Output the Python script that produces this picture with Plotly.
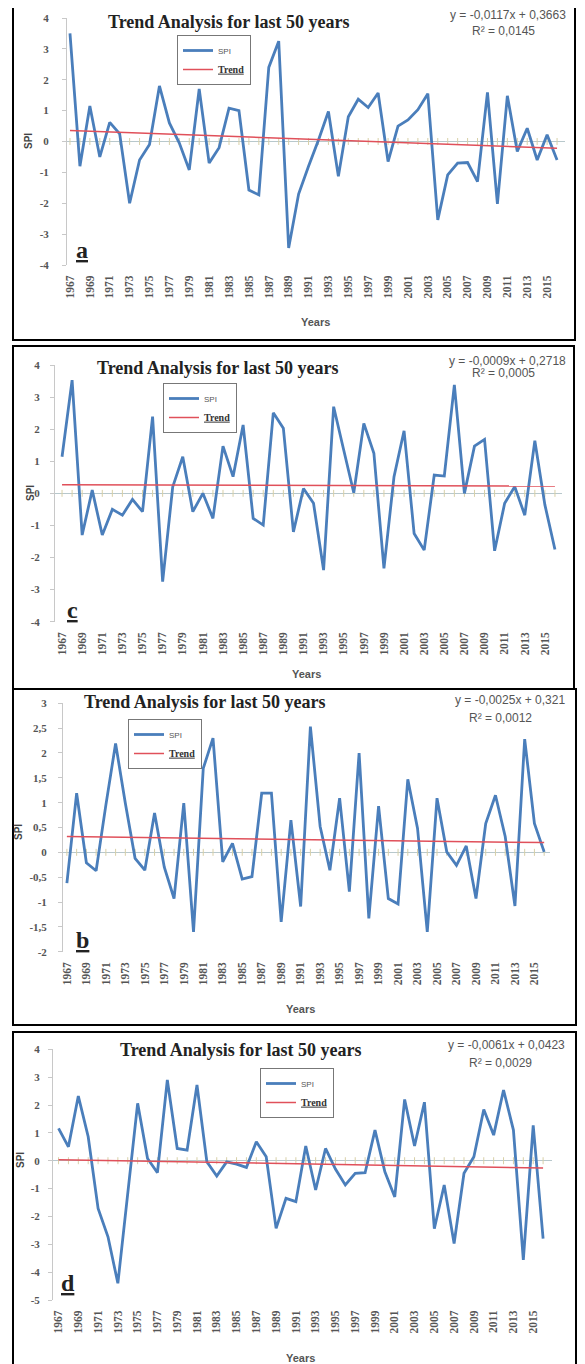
import plotly.graph_objects as go

years = list(range(1967, 2017))
tick_years = list(range(1967, 2016, 2))
tick_text = [str(y) for y in tick_years]

spi_a = [3.5, -0.8, 1.15, -0.5, 0.62, 0.25, -2.0, -0.6, -0.1, 1.8,
         0.6, -0.05, -0.92, 1.7, -0.7, -0.2, 1.08, 1.0, -1.57, -1.73,
         2.4, 3.25, -3.45, -1.7, -0.8, 0.05, 0.97, -1.13, 0.8, 1.37,
         1.1, 1.57, -0.65, 0.5, 0.7, 1.03, 1.55, -2.54, -1.08, -0.7,
         -0.68, -1.3, 1.59, -2.02, 1.48, -0.32, 0.43, -0.6, 0.22, -0.6]
spi_c = [1.14, 3.53, -1.3, 0.1, -1.3, -0.5, -0.68, -0.19, -0.57, 2.39,
         -2.75, 0.2, 1.14, -0.57, 0.0, -0.78, 1.47, 0.52, 2.13, -0.78,
         -0.99, 2.51, 2.03, -1.2, 0.15, -0.31, -2.39, 2.7, 1.35, 0.02,
         2.18, 1.25, -2.34, 0.52, 1.95, -1.25, -1.77, 0.57, 0.54, 3.38,
         0.0, 1.47, 1.68, -1.79, -0.31, 0.21, -0.68, 1.64, -0.36, -1.75]
spi_b = [-0.62, 1.19, -0.21, -0.37, 0.95, 2.19, 0.99, -0.12, -0.36, 0.79,
         -0.3, -0.93, 0.99, -1.6, 1.69, 2.3, -0.19, 0.18, -0.54, -0.49,
         1.19, 1.19, -1.4, 0.65, -1.09, 2.53, 0.52, -0.36, 1.09, -0.79,
         2.0, -1.33, 0.93, -0.93, -1.04, 1.47, 0.48, -1.6, 1.09, 0.01,
         -0.26, 0.13, -0.93, 0.58, 1.15, 0.32, -1.08, 2.28, 0.58, 0.01]
spi_d = [1.16, 0.5, 2.32, 0.86, -1.71, -2.73, -4.4, -1.2, 2.06, 0.08,
         -0.43, 2.9, 0.44, 0.38, 2.72, -0.04, -0.55, -0.04, -0.12, -0.24,
         0.68, 0.14, -2.43, -1.35, -1.47, 0.53, -1.05, 0.44, -0.3, -0.87,
         -0.45, -0.43, 1.1, -0.4, -1.3, 2.2, 0.53, 2.1, -2.44, -0.87,
         -2.97, -0.45, 0.14, 1.84, 0.92, 2.54, 1.1, -3.56, 1.27, -2.8]

slopes = [-0.0117, -0.0009, -0.0025, -0.0061]
intercepts = [0.3663, 0.2718, 0.321, 0.0423]
eq_texts = ["y = -0,0117x + 0,3663", "y = -0,0009x + 0,2718",
            "y = -0,0025x + 0,321", "y = -0,0061x + 0,0423"]
r2_texts = ["R² = 0,0145", "R² = 0,0005", "R² = 0,0012", "R² = 0,0029"]
letters = ["a", "c", "b", "d"]
series = [spi_a, spi_c, spi_b, spi_d]
title_text = "Trend Analysis for last 50 years"

W, H = 585, 1364
OFF = 8  # page body margin

def px(x):
    return (x - OFF) / W

def py(y):
    return 1 - (y - OFF) / H

panels = [
    dict(box=(13, 5, 575, 340), plot_x=(67, 565), xr=(1966.7, 2016.8),
         yr=(-4, 4), ypix=(18, 265), dtick=1, title=(229, 22), eq=(568, 15), r2=(503, 31),
         leg=(177, 35), letter=(82, 250), spi=(28, 141), years=(315, 322), comma=False, sto=11),
    dict(box=(13, 346, 574, 689), plot_x=(55, 562), xr=(1966.3, 2016.7),
         yr=(-4, 4), ypix=(365, 621.7), dtick=1, title=(218, 368), eq=(568, 361), r2=(503, 373),
         leg=(163, 383), letter=(72, 610), spi=(30, 493), years=(306, 674), comma=False, sto=8),
    dict(box=(13, 689, 576, 1025), plot_x=(63, 550), xr=(1966.6, 2016.6),
         yr=(-2, 3), ypix=(703.3, 951.7), dtick=0.5, title=(205, 702), eq=(567, 700), r2=(500, 718),
         leg=(128, 719), letter=(82, 940), spi=(18, 832), years=(300, 1009), comma=True, sto=9),
    dict(box=(13, 1032, 576, 1380), plot_x=(53, 552), xr=(1966.44, 2016.9),
         yr=(-5, 4), ypix=(1049.3, 1300), dtick=1, title=(241, 1050), eq=(567, 1045), r2=(500, 1063),
         leg=(260, 1068), letter=(68, 1283), spi=(20, 1160), years=(300, 1358), comma=False, sto=6),
]

fig = go.Figure()
annotations = []
shapes = []
layout_axes = {}


def note(text, x, y, size, family, color, xanchor="center", angle=0):
    annotations.append(dict(text=text, x=px(x), y=py(y), xref="paper", yref="paper",
                            xanchor=xanchor, yanchor="middle", showarrow=False,
                            textangle=angle,
                            font=dict(family=family, size=size, color=color)))


for i, p in enumerate(panels):
    n = i + 1
    xa = "x" if n == 1 else f"x{n}"
    ya = "y" if n == 1 else f"y{n}"
    lg = "legend" if n == 1 else f"legend{n}"
    vals = series[i]
    trend = [intercepts[i] + slopes[i] * (k + 1) for k in range(len(years))]

    fig.add_trace(go.Scatter(x=years, y=[0] * len(years), mode="markers",
                             marker=dict(symbol="line-ns", size=5,
                                         line=dict(color="#d8d0a8", width=1)),
                             xaxis=xa, yaxis=ya, showlegend=False, hoverinfo="skip"))
    fig.add_trace(go.Scatter(x=years, y=vals, mode="lines", name="SPI",
                             line=dict(color="#4a7ebb", width=2.8),
                             xaxis=xa, yaxis=ya, legend=lg))
    fig.add_trace(go.Scatter(x=years, y=trend, mode="lines",
                             name="<span style='font-family:Liberation Serif;font-size:10px;color:#333'><b><u>Trend</u></b></span>",
                             line=dict(color="#e0505a", width=1.5),
                             xaxis=xa, yaxis=ya, legend=lg))

    x0, x1 = p["plot_x"]
    ytop, ybot = p["ypix"]
    xkey = "xaxis" if n == 1 else f"xaxis{n}"
    ykey = "yaxis" if n == 1 else f"yaxis{n}"
    layout_axes[xkey] = dict(domain=[px(x0), px(x1)], range=list(p["xr"]),
                             anchor=ya, tickvals=tick_years, ticktext=tick_text,
                             tickangle=-90, showgrid=False, zeroline=False,
                             showline=False, ticks="outside", ticklen=5,
                             tickcolor="rgba(0,0,0,0)", automargin=False,
                             tickfont=dict(family="Liberation Serif", size=11.5,
                                           color="#555", weight="bold"))
    ytickvals = []
    v = p["yr"][0]
    while v <= p["yr"][1] + 1e-9:
        ytickvals.append(round(v, 2))
        v += p["dtick"]
    if p["comma"]:
        yticktext = [str(int(t)) if float(t) == int(t) else str(t).replace(".", ",") for t in ytickvals]
    else:
        yticktext = [str(int(t)) for t in ytickvals]
    layout_axes[ykey] = dict(domain=[py(ybot), py(ytop)], range=list(p["yr"]),
                             anchor=xa, tickvals=ytickvals, ticktext=yticktext,
                             showgrid=False, zeroline=True, zerolinecolor="#b8c8cc",
                             zerolinewidth=1, showline=True, linecolor="#c8c8c8",
                             linewidth=1, ticks="outside", ticklen=4,
                             tickcolor="#c8c8c8", automargin=False,
                             ticklabelstandoff=p["sto"],
                             tickfont=dict(family="Liberation Serif", size=11,
                                           color="#555", weight="bold"))

    lx, ly = p["leg"]
    fig.layout[lg] = dict(x=px(lx), y=py(ly), xanchor="left", yanchor="top",
                          bgcolor="white", bordercolor="#777", borderwidth=1,
                          font=dict(family="Liberation Sans", size=8, color="#555"),
                          itemwidth=30, tracegroupgap=0)

    bx0, by0, bx1, by1 = p["box"]
    shapes.append(dict(type="rect", xref="paper", yref="paper",
                       x0=px(bx0), x1=px(bx1), y0=py(by1), y1=py(by0),
                       line=dict(color="black", width=2)))

    note("<b>" + title_text + "</b>", *p["title"], 18, "Liberation Serif", "#222")
    note(eq_texts[i], *p["eq"], 12, "Liberation Sans", "#555", xanchor="right")
    note(r2_texts[i], *p["r2"], 12, "Liberation Sans", "#555")
    note("<b><u>" + letters[i] + "</u></b>", *p["letter"], 24, "Liberation Serif", "#222")
    note("<b>SPI</b>", *p["spi"], 10, "Liberation Sans", "#444", angle=-90)
    note("<b>Years</b>", *p["years"], 11, "Liberation Sans", "#555")

fig.update_layout(width=W, height=H,
                  margin=dict(l=0, r=0, t=0, b=0, pad=0, autoexpand=False),
                  paper_bgcolor="white", plot_bgcolor="white",
                  annotations=annotations, shapes=shapes, **layout_axes)

fig.write_html("out.html")
